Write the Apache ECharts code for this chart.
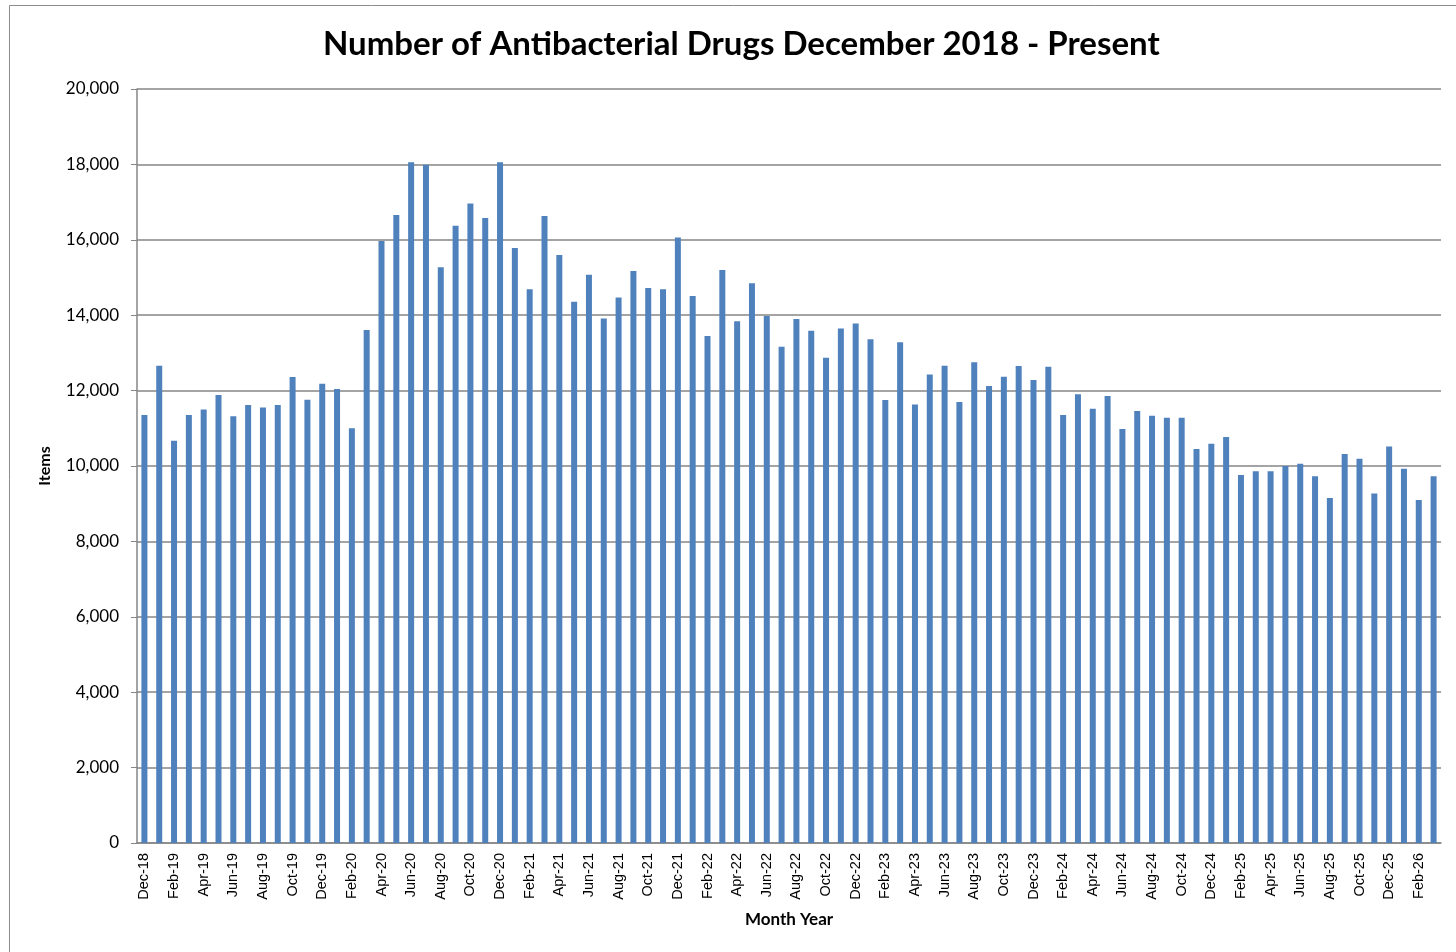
<!DOCTYPE html>
<html>
<head>
<meta charset="utf-8">
<script src="https://cdn.jsdelivr.net/npm/echarts@6/dist/echarts.min.js"></script>
<style>
  html, body { margin: 0; padding: 0; background: #fff; }
  #main { width: 1456px; height: 952px; }
</style>
</head>
<body>
<div id="main"></div>
<script>
const title = 'Number of Antibacterial Drugs December 2018 - Present'
const months = [
  'Dec-18',
  'Jan-19', 'Feb-19', 'Mar-19', 'Apr-19', 'May-19', 'Jun-19', 'Jul-19', 'Aug-19', 'Sep-19', 'Oct-19', 'Nov-19', 'Dec-19',
  'Jan-20', 'Feb-20', 'Mar-20', 'Apr-20', 'May-20', 'Jun-20', 'Jul-20', 'Aug-20', 'Sep-20', 'Oct-20', 'Nov-20', 'Dec-20',
  'Jan-21', 'Feb-21', 'Mar-21', 'Apr-21', 'May-21', 'Jun-21', 'Jul-21', 'Aug-21', 'Sep-21', 'Oct-21', 'Nov-21', 'Dec-21',
  'Jan-22', 'Feb-22', 'Mar-22', 'Apr-22', 'May-22', 'Jun-22', 'Jul-22', 'Aug-22', 'Sep-22', 'Oct-22', 'Nov-22', 'Dec-22',
  'Jan-23', 'Feb-23', 'Mar-23', 'Apr-23', 'May-23', 'Jun-23', 'Jul-23', 'Aug-23', 'Sep-23', 'Oct-23', 'Nov-23', 'Dec-23',
  'Jan-24', 'Feb-24', 'Mar-24', 'Apr-24', 'May-24', 'Jun-24', 'Jul-24', 'Aug-24', 'Sep-24', 'Oct-24', 'Nov-24', 'Dec-24',
  'Jan-25', 'Feb-25', 'Mar-25', 'Apr-25', 'May-25', 'Jun-25', 'Jul-25', 'Aug-25', 'Sep-25', 'Oct-25', 'Nov-25', 'Dec-25',
  'Jan-26', 'Feb-26', 'Mar-26'
]
const items = [
  11350,
  12660, 10670, 11350, 11500, 11880, 11320, 11620, 11550, 11620, 12360, 11760, 12180,
  12040, 11000, 13610, 15970, 16660, 18060, 17990, 15270, 16370, 16960, 16580, 18060,
  15780, 14690, 16630, 15600, 14360, 15070, 13910, 14470, 15170, 14720, 14690, 16060,
  14510, 13450, 15200, 13840, 14850, 13980, 13160, 13900, 13590, 12870, 13650, 13780,
  13360, 11750, 13280, 11630, 12430, 12660, 11700, 12750, 12120, 12370, 12650, 12280,
  12630, 11350, 11900, 11520, 11860, 10980, 11460, 11330, 11280, 11280, 10450, 10590,
  10770, 9760, 9860, 9860, 10000, 10060, 9730, 9150, 10320, 10190, 9270, 10520,
  9930, 9100, 9730
]

const chart = echarts.init(document.getElementById('main'))
chart.setOption({
  animation: false,
  backgroundColor: '#fff',
  graphic: [{
    type: 'rect',
    shape: { x: 9.5, y: 5.5, width: 1480, height: 980 },
    style: { fill: 'none', stroke: '#8c8c8c', lineWidth: 1 },
    silent: true
  }],
  title: {
    text: title,
    left: 318,
    top: 23,
    textStyle: { fontFamily: 'Lato', fontWeight: 'bold', fontSize: 33, color: '#000' }
  },
  grid: { left: 137, right: 15, top: 89, bottom: 109 },
  xAxis: {
    type: 'category',
    data: months,
    name: 'Month Year',
    nameLocation: 'middle',
    nameGap: 68,
    nameTextStyle: { fontFamily: 'Lato', fontWeight: 'bold', fontSize: 17, color: '#000' },
    axisLine: { lineStyle: { color: '#868686', width: 1.5 } },
    axisTick: { show: false },
    axisLabel: {
      interval: 1,
      rotate: 90,
      margin: 10,
      fontFamily: 'Liberation Sans',
      fontSize: 14.5,
      color: '#000'
    }
  },
  yAxis: {
    type: 'value',
    min: 0,
    max: 20000,
    interval: 2000,
    name: 'Items',
    nameLocation: 'middle',
    nameGap: 84,
    nameTextStyle: { fontFamily: 'Lato', fontWeight: 'bold', fontSize: 16, color: '#000' },
    axisLine: { show: true, lineStyle: { color: '#868686', width: 1.5 } },
    axisTick: { show: true, length: 6, lineStyle: { color: '#868686' } },
    axisLabel: {
      margin: 18,
      fontFamily: 'Lato',
      fontSize: 17,
      color: '#000',
      formatter: v => v.toLocaleString('en-US')
    },
    splitLine: { lineStyle: { color: '#868686', width: 1.5 } }
  },
  series: [{
    type: 'bar',
    data: items,
    barWidth: 6,
    itemStyle: { color: '#4f81bd' }
  }]
})
</script>
</body>
</html>
